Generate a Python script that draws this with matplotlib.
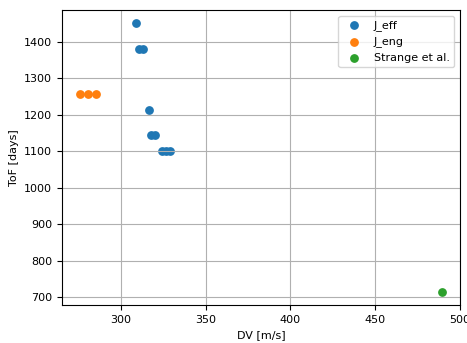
import matplotlib
matplotlib.use("Agg")
import matplotlib.pyplot as plt

# J_eff solutions (DV [m/s], ToF [days])
eff_dv = [308.8, 310.6, 312.9, 316.5, 317.8, 320.0, 324.3, 326.6, 328.9]
eff_tof = [1450, 1379, 1379, 1213, 1144, 1144, 1100, 1100, 1100]
# J_eng solutions
eng_dv = [275.8, 280.5, 285.2]
eng_tof = [1257, 1257, 1257]
# reference
strange_dv = [489.4]
strange_tof = [716]

fig, ax = plt.subplots(figsize=(4.67, 3.43), dpi=100)
ax.scatter(eff_dv, eff_tof, s=28, label="J_eff")
ax.scatter(eng_dv, eng_tof, s=28, label="J_eng")
ax.scatter(strange_dv, strange_tof, s=28, label="Strange et al.")
ax.set_xlabel("DV [m/s]", fontsize=8)
ax.set_ylabel("ToF [days]", fontsize=8)
ax.tick_params(labelsize=8)
ax.grid(True)
ax.legend(fontsize=8)
fig.subplots_adjust(left=62 / 467, right=460 / 467, top=1 - 10 / 343, bottom=1 - 305 / 343)
fig.savefig("out.png")
